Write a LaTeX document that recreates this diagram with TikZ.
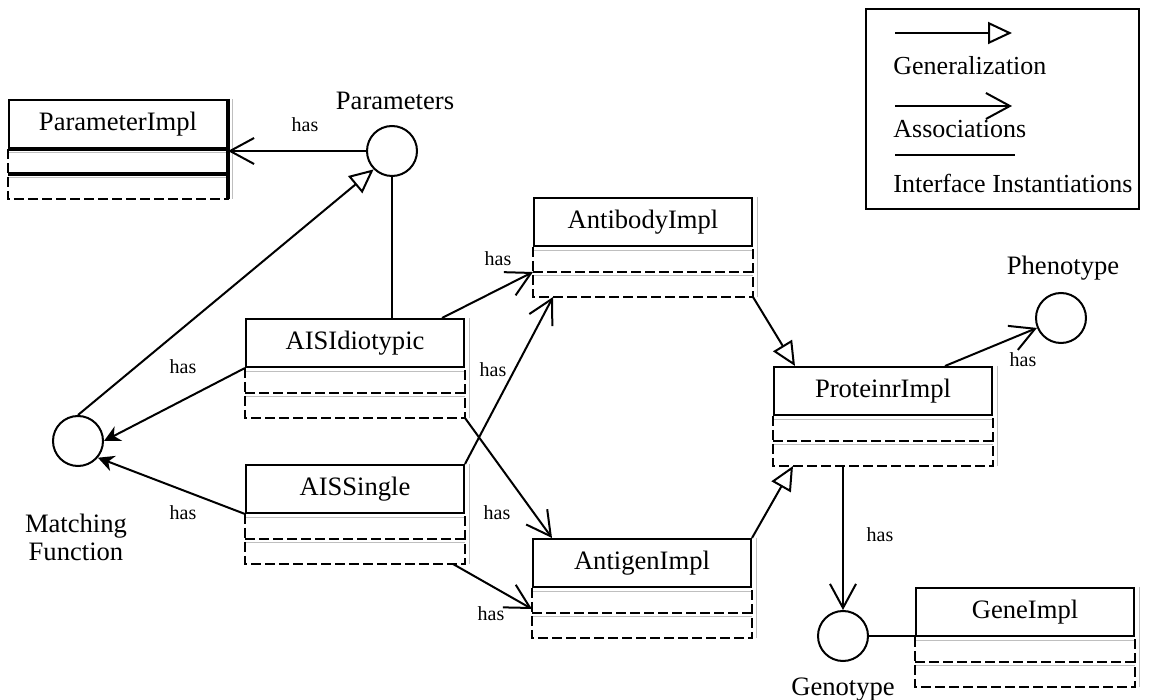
\documentclass[tikz,border=0pt]{standalone}
\usepackage{fontspec}
\setmainfont{Liberation Serif}
\usetikzlibrary{arrows.meta,calc}

% One UML class: a solid title box and two dashed compartments below it
\newcommand{\umlclass}[3]{%
  \node[classtitle, anchor=north west] (#1) at (#2) {#3};
  \coordinate (#1-mw) at ([yshift=-12.5pt]#1.south west);
  \coordinate (#1-me) at ([yshift=-12.5pt]#1.south east);
  \coordinate (#1-bw) at ([yshift=-25pt]#1.south west);
  \coordinate (#1-be) at ([yshift=-25pt]#1.south east);
  \draw[ghost] ([yshift=-1.6pt]#1.south west) -- ([yshift=-1.6pt]#1.south east);
  \draw[ghost] ([yshift=-1.6pt]#1-mw) -- ([yshift=-1.6pt]#1-me);
  \draw[ghost] ([xshift=2pt]#1.north east) -- ([xshift=2pt]#1-be);
  \draw[compline] (#1.south west) -- (#1-bw) -- (#1-be) -- (#1.south east);
  \draw[compline] (#1-mw) -- (#1-me);
}

\begin{document}
\begin{tikzpicture}[x=0.5pt,y=-0.5pt,
  classtitle/.style={draw, line width=1pt, minimum width=109pt, minimum height=24pt,
                     inner sep=0pt, font=\fontsize{13.3}{15}\selectfont},
  compline/.style={line width=1pt, dash pattern=on 5pt off 2pt},
  ghost/.style={gray!50, line width=0.4pt},
  iface/.style={draw, circle, minimum size=25pt, inner sep=0pt, line width=1pt},
  lbl/.style={font=\fontsize{13.3}{14}\selectfont, inner sep=0pt},
  legendlbl/.style={font=\fontsize{13}{14}\selectfont, inner sep=0pt, anchor=west},
  haslbl/.style={font=\fontsize{10}{12}\selectfont, inner sep=0pt},
  conn/.style={line width=1pt},
  assoc/.style={conn, -{Straight Barb[length=12pt,width=13pt,line width=1pt]}},
  assocfill/.style={conn, -{Stealth[length=8pt,width=8pt,inset=2.5pt]}},
  gen/.style={conn, -{Triangle[open,length=12pt,width=11pt,line width=1pt]}},
]
\useasboundingbox (0,0) rectangle (1164,700);

% classes
\umlclass{param}{8,99}{ParameterImpl}
\draw[line width=2pt] (param.south west) -- (param.south east);
\draw[line width=2pt] (param-mw) -- (param-me);
\draw[line width=1.8pt] (param.north east) -- (param-be);
\umlclass{aisi}{245,318}{AISIdiotypic}
\umlclass{aiss}{245,464}{AISSingle}
\umlclass{antibody}{533,197}{AntibodyImpl}
\umlclass{antigen}{532,538}{AntigenImpl}
\umlclass{protein}{773,366}{ProteinrImpl}
\umlclass{gene}{915,587}{GeneImpl}

% interfaces
\node[iface] (params) at (392,151) {};
\node[lbl] (paramslbl) at (395,101) {Parameters};
\node[iface] (match) at (78,441) {};
\node[lbl, align=center] (matchlbl) at (76,537) {Matching\\Function};
\node[iface] (pheno) at (1061,318) {};
\node[lbl] (phenolbl) at (1063,268) {Phenotype};
\node[iface] (geno) at (843,636) {};
\node[lbl] (genolbl) at (843,690) {Genotype};

% interface instantiations
\draw[conn] (params.south) -- (params.south |- aisi.north);
\draw[conn] (geno.east) -- (geno.east -| gene.west);

% generalizations
\draw[gen] (match.north) -- (params.225);
\draw[gen] (antibody-be) -- ([xshift=11pt]protein.north west);
\draw[gen] (antigen.north east) -- ([xshift=10pt]protein-bw);

% associations
\draw[assoc] (params.west) -- (params.west -| param.east);
\draw[assocfill] (aisi.south west) -- (match.east);
\draw[assocfill] (aiss.south west) -- (match.-40);
\draw[assoc] ([xshift=-11.5pt]aisi.north east) -- (antibody-mw);
\draw[assoc] (aiss.north east) -- ([xshift=10pt]antibody-bw);
\draw[assoc] (aisi-be) -- ([xshift=10pt]antigen.north west);
\draw[assoc] ([xshift=-6pt]aiss-be) -- ([yshift=2pt]antigen-mw);
\draw[assoc] ([xshift=-24pt]protein.north east) -- (pheno);
\draw[assoc] (geno.north |- protein-bw) -- (geno.north);

% association labels
\node[haslbl] (h1) at (305,125) {has};
\node[haslbl] (h2) at (183,367) {has};
\node[haslbl] (h3) at (183,513) {has};
\node[haslbl] (h4) at (498,259) {has};
\node[haslbl] (h5) at (493,370) {has};
\node[haslbl] (h6) at (497,513) {has};
\node[haslbl] (h7) at (491,614) {has};
\node[haslbl] (h8) at (1023,360) {has};
\node[haslbl] (h9) at (880,535) {has};

% legend
\node[draw, line width=1pt, minimum width=136.5pt, minimum height=100pt,
      inner sep=0pt, anchor=north west] (legend) at (865,8) {};
\coordinate (lg1a) at (895,33);  \coordinate (lg1b) at (1012,33);
\coordinate (lg2a) at (895,106); \coordinate (lg2b) at (1012,106);
\coordinate (lg3a) at (895,155); \coordinate (lg3b) at (1015,155);
\draw[gen] (lg1a) -- (lg1b);
\node[legendlbl] (lgt1) at (893,66) {Generalization};
\draw[assoc] (lg2a) -- (lg2b);
\node[legendlbl] (lgt2) at (893,129) {Associations};
\draw[conn] (lg3a) -- (lg3b);
\node[legendlbl] (lgt3) at (893,183) {Interface Instantiations};
\end{tikzpicture}
\end{document}
